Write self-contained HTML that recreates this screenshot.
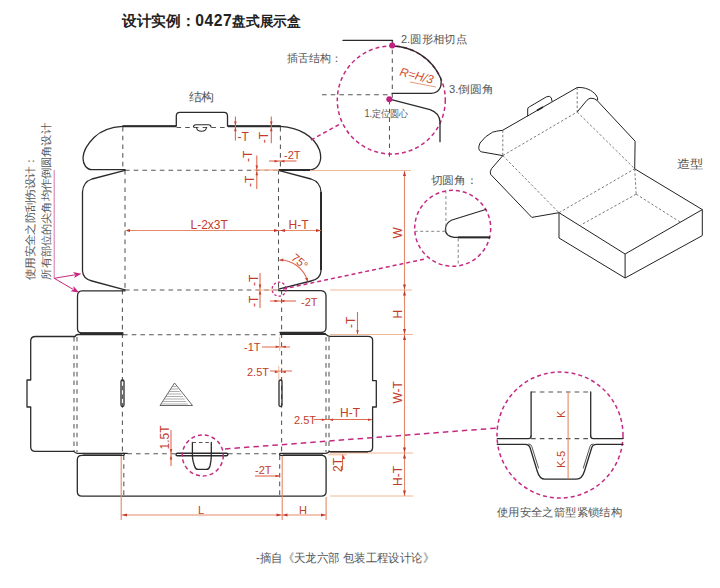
<!DOCTYPE html>
<html><head><meta charset="utf-8">
<style>
html,body{margin:0;padding:0;background:#fff;}
body{width:720px;height:588px;overflow:hidden;position:relative;font-family:"Liberation Sans",sans-serif;}
svg{position:absolute;left:0;top:0;}
.k{fill:none;stroke:#2b2b2b;stroke-width:1.3;stroke-linejoin:round;stroke-linecap:round;}
.kb{fill:none;stroke:#2b2b2b;stroke-width:2;}
.d{fill:none;stroke:#555;stroke-width:1.05;stroke-dasharray:4.6 4.1;}
.dl{fill:none;stroke:#777;stroke-width:0.9;stroke-dasharray:3 2.5;}
.m{fill:none;stroke:#c42a82;stroke-width:1.5;stroke-dasharray:4 3;}
.o{fill:none;stroke:#e48a68;stroke-width:1.1;}
.oe{fill:none;stroke:#f0b898;stroke-width:1;}
.t{font-family:"Liberation Sans",sans-serif;fill:#c23c2a;font-size:11px;}
.g{font-family:"Liberation Sans",sans-serif;fill:#555;font-size:10.5px;}
.ar{fill:#c03a30;}
.b3{fill:none;stroke:#222;stroke-width:1;stroke-linejoin:round;}
.b3d{fill:none;stroke:#444;stroke-width:0.7;stroke-dasharray:2.5 2;}
</style></head>
<body>
<svg width="720" height="588" viewBox="0 0 720 588">
<!-- Title -->
<text x="122" y="25.5" textLength="178.7" lengthAdjust="spacingAndGlyphs" style="font-family:'Liberation Sans',sans-serif;font-weight:bold;font-size:15px;fill:#222"><tspan>设计实例：</tspan><tspan style="font-size:16px;letter-spacing:0.6px">0427</tspan><tspan style="font-size:14px">盘式展示盒</tspan></text>

<!-- ============ DIE LINE ============ -->
<!-- fold dashed lines -->
<path class="d" d="M122.8,127 V170 M125,170 V290 M122.4,290 V453 M123.8,455.5 V496 M280.4,127 V170 M278.5,170 V289 M281.6,290 V453 M279.7,455.5 V496"/>
<path class="d" d="M125,170.2 H278.5 M125,290 H278.5 M123,334.8 H280.5 M127.3,453.8 H176 M228,453.8 H279 M176.5,127.5 H227.5"/>
<path class="d" d="M74,337 V452 M77,337 V452 M326,337 V452 M329,337 V452"/>

<!-- top edge with tab -->
<path class="k" d="M122.8,126.2 H176.3 V116 Q176.3,112.3 180,112.3 H224 Q227.5,112.3 227.5,116 V126.2 H280.4"/>
<path class="kb" d="M122.8,126.2 H176 M228,126.2 H280.4"/>
<!-- tab notch -->
<path class="k" d="M193.5,127 Q193.5,124.8 196,124.8 H208.5 Q211,124.8 211,127 M196.5,127.5 Q197,131.2 201.5,131.2 Q206,131.2 206.5,127.5" style="stroke-width:1.1"/>

<!-- left top ear flap -->
<path class="k" d="M122.8,126.4 C112,127 101,130.5 94,137.5 C88,143.5 83.2,150 83,158 C83,164.5 86.5,169.6 92,169.6 H125"/>
<!-- right top ear flap -->
<path class="k" d="M280.4,126.4 C299,127.5 314,136 319.5,150 C323,161 318,169.8 310,169.8 H278.5"/>
<path class="kb" d="M279,170 H310"/>

<!-- left dust flap -->
<path class="k" d="M125,170.4 L92,179 Q83,182 82.5,192 V271 Q83,279 92,281 L125,289.8"/>
<!-- right dust flap -->
<path class="k" d="M278.5,170.4 L311,179 Q320.5,182 321,192 V271 Q320.5,279 311,281 L278.5,289.2"/>
<path class="kb" d="M321,192 V270"/>

<!-- middle flaps -->
<path class="k" d="M125,290.8 H82 Q77.5,291 77.5,296 V328.5 Q77.5,333 82,333 H123"/>
<path class="kb" d="M80,333.5 H123"/>
<path class="k" d="M278.5,290.6 H321 Q326,291 326,296 V328 Q326,332.5 321,332.5 H280"/>
<path class="kb" d="M280,334 H326"/>

<!-- left side panel -->
<path class="k" d="M75,336.5 H35.5 Q30.7,336.5 30.7,341 V380 H27 V407 H30.7 V446.8 Q30.7,451.4 35.5,451.4 H73.8 Q75.5,453.3 77.5,453.3 H127.3"/>
<path class="k" d="M123,334.5 H78 Q76,334.5 75,336.5"/>
<!-- right side panel -->
<path class="k" d="M326,334.5 Q328,336.3 330,336.3 H368 Q372.6,336.3 372.6,340.3 V380.7 H376.3 V407 H372.6 V447.5 Q372.6,451.7 368,451.7 H329.2 Q327.5,453.3 325.8,453.3 H280.2 Q278.8,454.3 280.2,455.3"/>
<path class="kb" d="M330,452 H368"/>

<!-- bottom flaps -->
<path class="k" d="M123.8,453.3 Q125,454.3 123.8,455.3 H82 Q77.3,455.3 77.3,460 V491.4 Q77.3,496.1 82,496.1 H321.4 Q326.1,496.1 326.1,491.4 V460 Q326.1,455.3 321.4,455.3 H280.2"/>
<path d="M283,454.3 H323 M83,454.3 H122" stroke="#555" stroke-width="1"/>

<!-- slots -->
<rect class="k" x="121" y="380" width="3" height="26.5" rx="1.5"/>
<rect class="k" x="279" y="380" width="3" height="26.5" rx="1.5"/>
<!-- lock slit -->
<rect class="k" x="176" y="453.2" width="51.8" height="2.6" rx="1.3" style="stroke-width:1.4"/>
<path class="k" d="M192.4,442.5 V456.5 Q192.5,460 194.5,466 Q195.5,469.4 198,469.4 H206.5 Q209,469.4 210,466 Q211.2,460 211.3,456.5 V442.5"/>
<path class="d" d="M192.4,442.4 H211.3" style="stroke-dasharray:3.5 3"/>
<!-- left slit end & right slit -->


<!-- triangle logo -->
<path d="M174.5,383 L160,405.5 H192.5 Z" fill="none" stroke="#555" stroke-width="0.9"/>
<path d="M172.5,386.5 H176.5 M171,389 H178 M169.3,391.5 H179.7 M167.7,394 H181.3 M166,396.5 H183 M164.4,399 H184.6 M162.8,401.5 H186.2 M161.2,404 H187.8" stroke="#777" stroke-width="0.6"/>

<!-- ============ DIMENSIONS ============ -->
<!-- extension lines -->
<path class="oe" d="M310,170.5 H411 M330,290 H412 M330,334.5 H413 M330,453 H413 M330,496 H413"/>
<path class="oe" d="M253,170 H279"/>
<!-- W/H vertical dimension line -->
<path class="o" d="M404.5,171 V496"/>
<g class="ar">
<path d="M404.5,171 l-1.5,5 h3z M404.5,289.5 l-1.5,-5 h3z M404.5,290.5 l-1.5,5 h3z M404.5,334 l-1.5,-5 h3z M404.5,335 l-1.5,5 h3z M404.5,452.5 l-1.5,-5 h3z M404.5,453.5 l-1.5,5 h3z M404.5,495.5 l-1.5,-5 h3z"/>
</g>
<text class="t" transform="translate(402.3,238.5) rotate(-90)" style="font-size:12px">W</text>
<text class="t" transform="translate(402.3,318.5) rotate(-90)" style="font-size:12px">H</text>
<text class="t" transform="translate(402.3,403.5) rotate(-90)" style="font-size:12px">W-T</text>
<text class="t" transform="translate(402.3,486) rotate(-90)" style="font-size:12px">H-T</text>

<!-- L-2x3T / H-T -->
<path class="o" d="M125,230.5 H321"/>
<g class="ar"><path d="M125,230.5 l5,-1.5 v3z M279,230.5 l-5,-1.5 v3z M280,230.5 l5,-1.5 v3z M321,230.5 l-5,-1.5 v3z"/></g>
<text class="t" x="190.5" y="229.3" style="font-size:12px">L-2x3T</text>
<text class="t" x="288.5" y="229.3" style="font-size:12px">H-T</text>

<!-- L / H bottom -->
<path class="o" d="M121.2,456 V520 M282.2,456 V520 M326.1,497 V520 M121.2,515 H326"/>
<g class="ar"><path d="M122,515 l5,-1.5 v3z M281.5,515 l-5,-1.5 v3z M282.5,515 l5,-1.5 v3z M326,515 l-5,-1.5 v3z"/></g>
<text class="t" x="198" y="513.6">L</text>
<text class="t" x="299" y="513.6">H</text>

<!-- top -T marks -->
<path class="o" d="M235.4,116.5 V140.4 M271.3,116.5 V143.3" style="stroke:#e06a50"/>
<text class="t" x="237.5" y="140.7" style="font-size:12px">-T</text>
<text class="t" transform="translate(268,143.3) rotate(-90)" style="font-size:12px">-T</text>
<!-- side -T -T -->
<path class="o" d="M256.8,155.6 V189" style="stroke:#e06a50"/>
<text class="t" transform="translate(252,162) rotate(-90)" style="font-size:12px">-T</text>
<text class="t" transform="translate(254,187) rotate(-90)" style="font-size:12px">-T</text>
<!-- -2T top -->
<path class="o" d="M269,161 H296.6" style="stroke:#e06a50"/>
<text class="t" x="284" y="159" style="font-size:11px">-2T</text>

<!-- lower -T -T near 290 -->
<path class="o" d="M260,273 V308" style="stroke:#e06a50"/>
<text class="t" transform="translate(257.5,286) rotate(-90)" style="font-size:12px">-T</text>
<text class="t" transform="translate(257.5,307) rotate(-90)" style="font-size:12px">-T</text>
<path class="o" d="M270,301 H296" style="stroke:#e06a50"/>
<text class="t" x="301" y="306" style="font-size:11px">-2T</text>
<!-- 75 deg -->
<path class="o" d="M279.5,260 A29,29 0 0 1 307.5,281" style="stroke:#e06a50"/>
<path fill="#c8402e" d="M279.3,260 l4,-1.6 l0,3z M307.7,281.5 l-2.8,-3.2 l2.9,-0.6z"/>
<text class="t" transform="translate(290.5,259) rotate(40)" style="font-size:11.5px">75°</text>
<!-- -1T / 2.5T -->
<path class="o" d="M262,347 H290 M270,371 H292" style="stroke:#e06a50"/>
<text class="t" x="244" y="351">-1T</text>
<text class="t" x="247" y="376">2.5T</text>
<!-- 2.5T H-T right -->
<path class="o" d="M314,419.5 H372" style="stroke:#e06a50"/>
<text class="t" x="294" y="424">2.5T</text>
<text class="t" x="340" y="416.8" style="font-size:12px">H-T</text>
<!-- -T right vertical arrow -->
<path class="o" d="M357.5,312 V334" style="stroke:#e06a50"/>
<text class="t" transform="translate(354.5,328) rotate(-90)" style="font-size:12px">-T</text>
<!-- 2T -->
<path class="o" d="M342.5,454 V470" style="stroke:#e06a50"/>
<text class="t" transform="translate(341.8,472) rotate(-90)" style="font-size:12px">2T</text>
<!-- 1.5T -->
<path class="o" d="M171,430 V466" style="stroke:#e06a50"/>
<text class="t" transform="translate(168.6,449.5) rotate(-90)" style="font-size:12px">1.5T</text>
<!-- -2T bottom -->
<path class="o" d="M255,476 H279" style="stroke:#e06a50"/>
<text class="t" x="255" y="473.5" style="font-size:11px">-2T</text>

<path class="oe" d="M279.7,337 V351 M278.8,366 V380 M328.3,454.8 H346.8 M255,290 H278 M260,170 H279"/>
<!-- small arrows -->
<path fill="#c8402e" d="M235.4,125.4 l-1.3,-4 h2.6z M235.4,127.2 l-1.3,4 h2.6z M271.3,125.4 l-1.3,-4 h2.6z M271.3,127.2 l-1.3,4 h2.6z M256.8,169.4 l-1.3,-4 h2.6z M256.8,171.2 l-1.3,4 h2.6z M278.5,161.3 l-4,-1.3 v2.6z M280.4,161.3 l4,-1.3 v2.6z M260,288.6 l-1.3,-4 h2.6z M260,290.4 l-1.3,4 h2.6z M278.5,301 l-4,-1.3 v2.6z M280.4,301 l4,-1.3 v2.6z M279.7,346.8 l-4,-1.3 v2.6z M281.7,346.8 l4,-1.3 v2.6z M278.8,372 l-4,-1.3 v2.6z M281.7,372 l4,-1.3 v2.6z M325.8,419.8 l-4,-1.3 v2.6z M329,419.8 l4,-1.3 v2.6z M372,419.8 l-4,-1.3 v2.6z M357.5,334.2 l-1.3,-4 h2.6z M343.6,455 l-1.3,4 h2.6z M171,453 l-1.3,-4 h2.6z M171,455.6 l-1.3,4 h2.6z M279.5,476 l-4,-1.3 v2.6z"/>
<!-- left long horizontal orange -->
<path class="o" d="M127,230.5 H125" />

<!-- ============ MAGENTA CALLOUTS ============ -->
<circle class="m" cx="391.3" cy="100" r="54"/>
<path class="m" d="M311,140 L340,124"/>
<circle class="m" cx="452.7" cy="228.3" r="38" />
<path class="m" d="M283,289 L425,259"/>
<circle class="m" cx="279.1" cy="289.2" r="7" style="stroke-width:1.3;stroke-dasharray:2.5 2"/>
<circle class="m" cx="202.8" cy="455.5" r="20.5" style="stroke-dasharray:4 3"/>
<path class="m" d="M225,449 L498,428" style="stroke-width:1.5;stroke-dasharray:5.5 4"/>
<circle class="m" cx="560" cy="435" r="63"/>

<!-- left magenta note line and arrows -->
<path d="M54.2,170 V278.3" stroke="#d274aa" stroke-width="1" fill="none"/>
<path d="M54.2,278.3 L75,274.8 M54.2,278.3 L73,289.3" stroke="#c8287f" stroke-width="1" fill="none"/>
<path d="M81.4,273.7 L74.0,278.0 L75.5,274.7 L73.0,272.1Z M78.9,292.6 L70.5,291.2 L73.7,289.6 L73.5,286.0Z" fill="#c8247f"/>

<!-- ============ INSERT TONGUE DETAIL ============ -->
<path class="k" d="M343,40.4 H392.5 V46"/>
<path class="d" d="M392.3,41 V98 M389.5,100 V159 M322,94.7 H392"/>

<path class="k" d="M389.5,99.2 L430,109.7 Q439.5,113 440,122 V141.7"/>
<path class="k" d="M391.3,46 A54,54 0 0 1 440.5,77.8 C442.5,85 440,93.3 431,93.3 H392"/>
<circle cx="392.2" cy="45.6" r="3" fill="#c21f7e"/>
<circle cx="389.3" cy="99.2" r="3" fill="#c21f7e"/>
<text transform="translate(399,75.5) rotate(14)" style="font-family:'Liberation Sans',sans-serif;font-style:italic;font-size:12px;fill:#d0502f">R=H/3</text>
<path d="M410,82 L436,87" stroke="#e08060" stroke-width="0.8"/>
<text class="g" x="401" y="43.3" textLength="66.2" lengthAdjust="spacingAndGlyphs">2.圆形相切点</text>
<text class="g" x="287" y="62">插舌结构：</text>
<text class="g" x="449" y="92.5" textLength="44.5" lengthAdjust="spacingAndGlyphs">3.倒圆角</text>
<text class="g" x="364.5" y="116.8" textLength="44" lengthAdjust="spacingAndGlyphs" style="font-size:10px">1.定位圆心</text>

<!-- 结构 -->
<text class="g" x="188.5" y="101" textLength="25.9" lengthAdjust="spacingAndGlyphs" style="font-size:12px">结构</text>

<!-- 切圆角 detail -->
<text class="g" x="430.5" y="184" textLength="47.2" lengthAdjust="spacingAndGlyphs" style="font-size:11px">切圆角：</text>
<path class="k" d="M489.8,237.4 H454 Q445.5,236 445.4,230 Q445.5,222.5 452,220 L485.7,209.5"/>
<path class="kb" d="M458,237.4 H489.8"/>
<path class="dl" d="M445.9,190.5 V231.3 M414.7,231.3 H445.9 M458.2,238.5 V266"/>


<!-- Vertical notes -->
<text class="g" transform="translate(33.5,280) rotate(-90) scale(1.062,1)" style="font-size:11px">使用安全之防刮伤设计：</text>
<text class="g" transform="translate(49.6,279.5) rotate(-90) scale(1.029,1)" style="font-size:11px">所有部位的尖角均作倒圆角设计</text>

<!-- ============ 3D BOX ============ -->
<g>
<!-- lid front edge with tab -->
<path class="b3" d="M502.6,130.3 Q496,131 492.5,132.2 Q485,136 480,143 Q477,150 481.2,151.8 L502.8,155.6"/>
<path class="b3" d="M502.6,130.3 L577.2,87.5 C585,87 592,90 596,95 Q598,97.5 597.7,100.4"/>
<path class="b3" d="M527.7,116.2 V109 Q527.7,107.5 529.5,106.8 L546.5,96.8 Q549.8,95.3 551.3,97.8 L552.1,101.6"/>
<path d="M537,110.5 L543,107" stroke="#222" stroke-width="1.6"/>
<path class="b3" d="M577.2,112 L586.8,100.4 Q589,98.2 591,98.2 Q594.5,98.2 597,100.4 L635.1,141.2 L634.7,168.8"/>
<path class="b3" d="M502.8,155.6 L491.5,168.7 Q489.5,172 490.6,174.3 L531.8,217.4 L559,212.7"/>
<path class="b3d" d="M502.8,130.3 V155.6 M577.2,87.5 V112 M502.8,155.6 L577.2,112 M502.8,155.6 L559,212.7 M577.2,112 L634.7,168.8"/>
<!-- box -->
<path class="b3" d="M559,212.7 V238 L625.1,278 V254 L559,212.7 M625.1,254 L702.3,209.6 V235.6 L625.1,278 M634.7,168.8 L702.3,209.6"/>
<path class="b3d" d="M559,212.7 L634.7,168.8 M634.7,168.8 L636.2,194.2 M636.2,194.2 L580.7,225 M636.2,194.2 L681,222.6"/>
<text class="g" x="677" y="167.6" textLength="26.6" lengthAdjust="spacingAndGlyphs" style="font-size:12px">造型</text>
</g>

<!-- ============ ARROW LOCK DETAIL ============ -->
<path class="d" d="M531.1,391.9 H590.7 M531.1,438.6 H590.7"/>
<path class="k" d="M531.1,391.9 V436 M590.7,391.9 V436"/>
<path class="k" d="M497.3,438.6 H528.5 Q531.1,438.6 531.1,436 M590.7,436 Q590.7,438.6 593.3,438.6 H623"/>
<path class="k" d="M497.3,444.4 H525.5 Q529,444.4 530,447.5 L537.2,471 Q539.5,479.2 545,479.2 H576.5 Q582,479.2 584.5,471 L591.8,447.5 Q592.8,444.4 596.3,444.4 H623"/>
<path class="k" d="M528.8,444 Q531.3,444.2 531.8,446.5 L538.5,468 M593,444 Q590.5,444.2 590,446.5 L583.3,468" style="stroke-width:0.8"/>
<path class="o" d="M568.1,392 V479"/>
<text class="t" transform="translate(565,418) rotate(-90)">K</text>
<text class="t" transform="translate(565,468) rotate(-90)">K-5</text>
<text class="g" x="497" y="516" textLength="125" lengthAdjust="spacingAndGlyphs" style="font-size:11px">使用安全之箭型紧锁结构</text>

<!-- caption -->
<text class="g" x="256" y="561.5" textLength="178" lengthAdjust="spacingAndGlyphs" style="font-size:12px">-摘自《天龙六部 包装工程设计论》</text>
</svg>
</body></html>
